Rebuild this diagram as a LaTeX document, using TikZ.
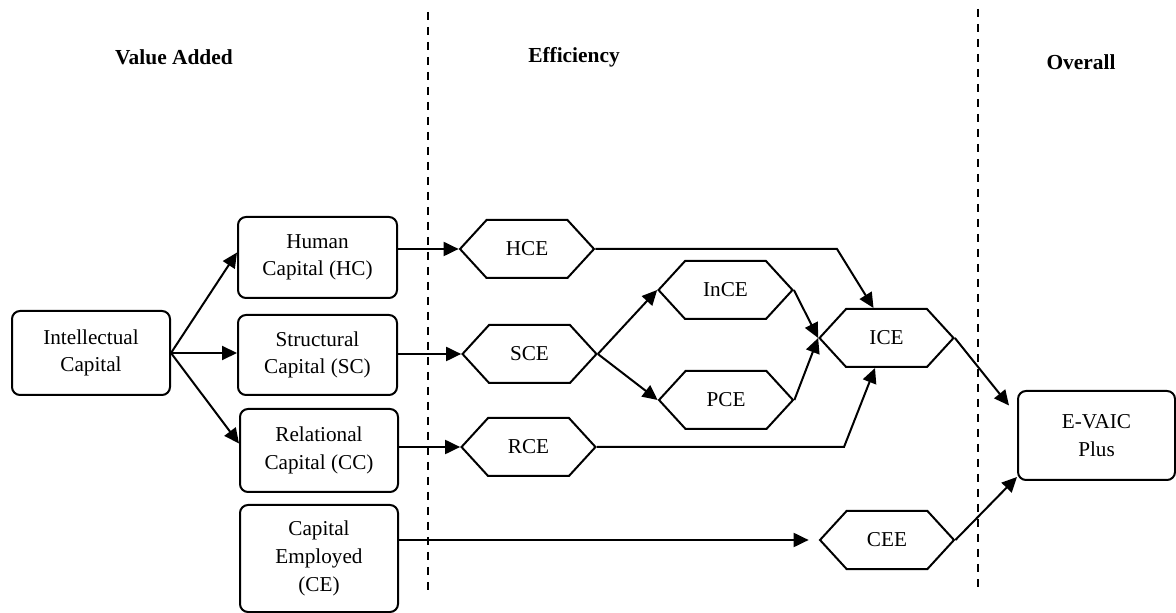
\documentclass[tikz,border=0pt]{standalone}
\usepackage{fontspec}
\setmainfont{Liberation Serif}
\usetikzlibrary{arrows.meta,shapes.symbols,calc}
\begin{document}
\begin{tikzpicture}[x=0.5pt,y=-0.5pt,
  every node/.style={font=\fontsize{10.6}{13.8}\selectfont},
  rbox/.style={draw,line width=1pt,rounded corners=4pt,align=center,inner sep=0pt},
  hexa/.style={draw,line width=1pt,signal,signal to=west and east,signal pointer angle=95,
     minimum width=67pt,minimum height=29pt,inner sep=0pt},
  head/.style={font=\fontsize{10.7}{13}\selectfont\bfseries},
  conn/.style={line width=1pt,-{Triangle[length=7.5pt,width=7pt]}},
  divider/.style={line width=0.6pt,dash pattern=on 4pt off 3.5pt}
]
\useasboundingbox (0,0) rectangle (1176,613);

% headers
\node[head] (hva) at (174,57) {Value Added};
\node[head] (hef) at (574,57) {Efficiency};
\node[head] (hov) at (1081,62) {Overall};

% dividers
\coordinate (d1t) at (428,12);
\coordinate (d1b) at (428,592);
\coordinate (d2t) at (978,9);
\coordinate (d2b) at (978,588);
\draw[divider] (d1t) -- (d1b);
\draw[divider] (d2t) -- (d2b);

% boxes
\node[rbox,minimum width=79pt,minimum height=42pt] (ic) at (91,353) {Intellectual\\Capital};
\node[rbox,minimum width=79.5pt,minimum height=40.5pt] (hc) at (317.5,257.5) {Human\\Capital (HC)};
\node[rbox,minimum width=79.5pt,minimum height=40pt] (sc) at (317.5,355) {Structural\\Capital (SC)};
\node[rbox,minimum width=79pt,minimum height=41.5pt] (rc) at (319,450.5) {Relational\\Capital (CC)};
\node[rbox,minimum width=79pt,minimum height=53.5pt] (ce) at (319,558.5) {Capital\\Employed\\(CE)};
\node[rbox,minimum width=78.5pt,minimum height=44.5pt] (ev) at (1096.5,435.5) {E-VAIC\\Plus};

% hexagons
\node[hexa] (hce) at (527,249) {HCE};
\node[hexa] (sce) at (529.5,354) {SCE};
\node[hexa] (rce) at (528.5,447) {RCE};
\node[hexa] (ince) at (725.5,290) {InCE};
\node[hexa] (pce) at (726,400) {PCE};
\node[hexa] (ice) at (886.5,338) {ICE};
\node[hexa] (cee) at (887,540) {CEE};

% connectors
\draw[conn] (ic.east) -- ($(hc.west)+(0,-5)$);
\draw[conn] (ic.east) -- (ic.east -| sc.west);
\draw[conn] (ic.east) -- ($(rc.west)+(0,-7)$);

\draw[conn] (hc.east |- hce.west) -- (hce.west);
\draw[conn] (sc.east |- sce.west) -- (sce.west);
\draw[conn] (rc.east |- rce.west) -- (rce.west);
\draw[conn,shorten >=5pt] (ce.east |- cee.west) -- (cee.west);

\coordinate (c1) at (837,249);
\draw[conn] (hce.east) -- (c1) -- ($(ice.north)+(-13,0)$);
\draw[conn] (sce.east) -- (ince.west);
\draw[conn] (sce.east) -- (pce.west);
\draw[conn] (ince.east) -- (ice.west);
\draw[conn] (pce.east) -- (ice.west);
\coordinate (c2) at (844,447);
\draw[conn] (rce.east) -- (c2) -- ($(ice.south)+(-11.5,0)$);

\draw[conn] (ice.east) -- ($(ev.west)+(-8,-30)$);
\draw[conn] (cee.east) -- ($(ev.south west)+(0,-4)$);
\end{tikzpicture}
\end{document}
